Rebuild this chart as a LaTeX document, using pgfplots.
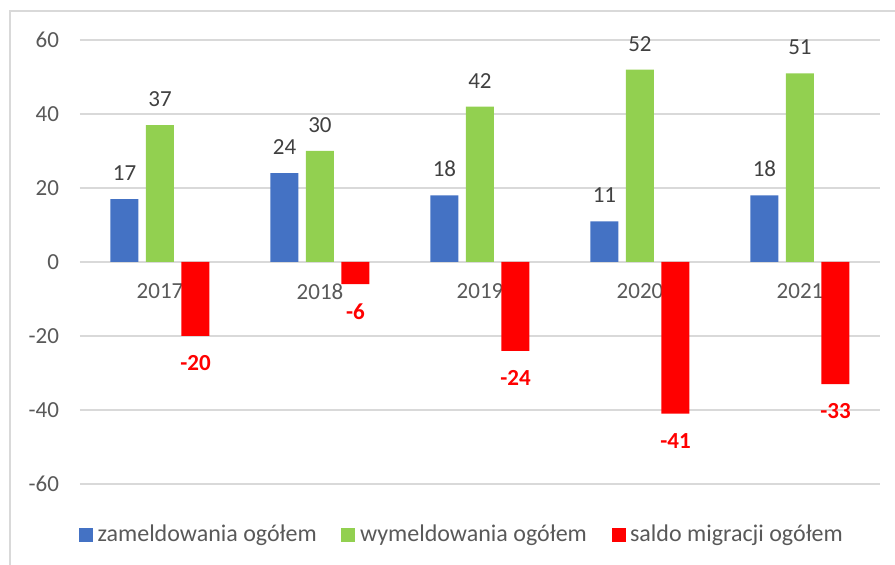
\documentclass[border=0pt]{standalone}
\usepackage{pgfplots}
\pgfplotsset{compat=1.18}
\usepackage{fontspec}
\setmainfont{Carlito}
\definecolor{cblue}{HTML}{4472C4}
\definecolor{cgreen}{HTML}{92D050}
\definecolor{cred}{HTML}{FF0000}
\definecolor{gridgray}{HTML}{D9D9D9}
\definecolor{ticktext}{HTML}{595959}
\definecolor{labtext}{HTML}{404040}
\begin{document}
\begin{tikzpicture}
\useasboundingbox (0,0) rectangle (447.5pt,282.5pt);
\begin{axis}[
  at={(40pt,40.5pt)}, anchor=south west,
  scale only axis, width=400pt, height=222pt,
  xmin=-0.5, xmax=4.5, ymin=-60, ymax=60,
  ytick={-60,-40,-20,0,20,40,60},
  xtick={0,1,2,3,4},
  xticklabels={2017,2018,2019,2020,2021},
  axis x line=middle, axis y line=left,
  x axis line style={-, draw=gridgray, line width=0.75pt},
  y axis line style={draw=none},
  ymajorgrids, grid style={draw=gridgray, line width=0.75pt},
  major tick length=0pt,
  tick style={draw=none},
  /pgf/number format/assume math mode=true,
  font=\fontsize{11.5}{13}\selectfont,
  tick label style={text=ticktext},
  yticklabel style={xshift=-7pt},
  xticklabel style={yshift=-7.5pt},
  ybar, bar width=14pt,
  legend style={at={(rel axis cs:0.479,-0.115)}, anchor=center, draw=none, fill=none,
    legend columns=3, font=\fontsize{12}{13}\selectfont, text=ticktext,
    nodes={inner xsep=2.3pt},
    /tikz/every even column/.append style={column sep=10pt}},
  legend image code/.code={\fill[#1] (0pt,-3.5pt) rectangle (7pt,3.5pt);},
]
\addplot[fill=cblue, draw=none, bar shift=-17.75pt,
  nodes near coords, nodes near coords style={anchor=south, inner sep=0pt, yshift=9pt, text=labtext, font=\fontsize{11.5}{13}\selectfont}]
  coordinates {(0,17) (1,24) (2,18) (3,11) (4,18)};
\addlegendentry{zameldowania ogółem}
\addplot[fill=cgreen, draw=none, bar shift=0pt,
  nodes near coords, nodes near coords style={anchor=south, inner sep=0pt, yshift=9pt, text=labtext, font=\fontsize{11.5}{13}\selectfont}]
  coordinates {(0,37) (1,30) (2,42) (3,52) (4,51)};
\addlegendentry{wymeldowania ogółem}
\addplot[fill=cred, draw=none, bar shift=17.75pt,
  nodes near coords, nodes near coords style={anchor=north, inner sep=0pt, yshift=-9.5pt, text=cred, font=\fontsize{11.5}{13}\selectfont\bfseries}]
  coordinates {(0,-20) (1,-6) (2,-24) (3,-41) (4,-33)};
\addlegendentry{saldo migracji ogółem}
\end{axis}
\draw[gridgray, line width=0.75pt] (5pt,-10pt) rectangle (460pt,277pt);
\end{tikzpicture}
\end{document}
